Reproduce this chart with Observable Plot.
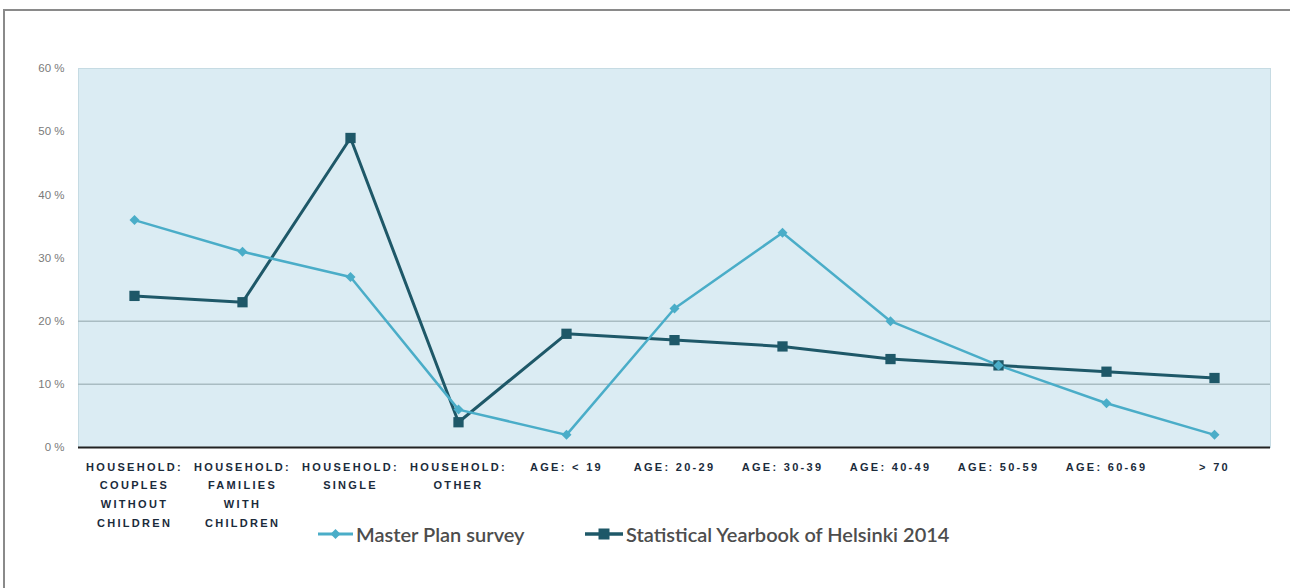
<!DOCTYPE html>
<html>
<head>
<meta charset="utf-8">
<script src="https://cdn.jsdelivr.net/npm/d3@7"></script>
<script src="https://cdn.jsdelivr.net/npm/@observablehq/plot@0.6"></script>
<style>
  html, body { margin: 0; padding: 0; background: #fff; }
  #page { position: relative; width: 1290px; height: 588px; overflow: hidden; }
  #border { position: absolute; left: 3px; top: 9px; right: -10px; bottom: -10px;
            border-top: 2px solid #8a8a8a; border-left: 2px solid #8a8a8a; }
  #chart { position: absolute; left: 0; top: 0; }
  #chart svg g[aria-label="x-axis tick label"] text { letter-spacing: 2.3px; }
  .leg { position: absolute; top: 521px; display: flex; align-items: center;
         font-family: Lato, "Liberation Sans", sans-serif; font-size: 20px; color: #4d4d4d; font-weight: 600; }
  .leg svg { margin-right: 3px; }
</style>
</head>
<body>
<div id="page">
  <div id="border"></div>
  <div id="chart"></div>
  <div class="leg" style="left:318px"><svg width="35" height="26"><line x1="0" x2="35" y1="13" y2="13" stroke="#4aadc8" stroke-width="3"/><path d="M17.5,8L22.5,13L17.5,18L12.5,13Z" fill="#4aadc8"/></svg><span>Master Plan survey</span></div>
  <div class="leg" style="left:585px"><svg width="38" height="26"><line x1="0" x2="38" y1="13" y2="13" stroke="#1e5868" stroke-width="3.5"/><rect x="13.5" y="7.5" width="11" height="11" fill="#1e5868"/></svg><span>Statistical Yearbook of Helsinki 2014</span></div>
</div>
<script>
const categories = ["couples", "families", "single", "other", "age<19", "age20", "age30", "age40", "age50", "age60", "age70"];
const categoryLabels = [
  "HOUSEHOLD:\nCOUPLES\nWITHOUT\nCHILDREN",
  "HOUSEHOLD:\nFAMILIES\nWITH\nCHILDREN",
  "HOUSEHOLD:\nSINGLE",
  "HOUSEHOLD:\nOTHER",
  "AGE: < 19",
  "AGE: 20-29",
  "AGE: 30-39",
  "AGE: 40-49",
  "AGE: 50-59",
  "AGE: 60-69",
  "> 70"
];
const masterPlan = [36, 31, 27, 6, 2, 22, 34, 20, 13, 7, 2];
const yearbook = [24, 23, 49, 4, 18, 17, 16, 14, 13, 12, 11];
const yTicks = [0, 10, 20, 30, 40, 50, 60];
const gridValues = [10, 20];
const seriesNames = ["Master Plan survey", "Statistical Yearbook of Helsinki 2014"];

const lightBlue = "#4aadc8";
const darkTeal = "#1e5868";

const mp = categories.map((c, i) => ({cat: c, value: masterPlan[i], series: seriesNames[0]}));
const yb = categories.map((c, i) => ({cat: c, value: yearbook[i], series: seriesNames[1]}));
const labelOf = new Map(categories.map((c, i) => [c, categoryLabels[i]]));

const chart = Plot.plot({
  width: 1290,
  height: 588,
  marginLeft: 78,
  marginRight: 20,
  marginTop: 68,
  marginBottom: 141,
  style: {fontFamily: "'Liberation Sans', sans-serif", background: "transparent"},
  x: {type: "point", domain: categories, padding: 0.5, label: null},
  y: {domain: [0, 60], label: null},
  marks: [
    Plot.frame({fill: "#dbecf3", stroke: "#c6dbe3"}),
    Plot.gridY(gridValues, {stroke: "#a9bcc2", strokeOpacity: 1, strokeWidth: 1.5}),
    Plot.axisY(yTicks, {tickSize: 0, tickPadding: 14, tickFormat: d => d + " %", fontSize: 11.5, fill: "#7a7a7a", label: null}),
    Plot.axisX({tickSize: 0, tickPadding: 10, tickFormat: d => labelOf.get(d), fontSize: 11, fontWeight: "bold", fill: "#1b2b3b", lineHeight: 1.7, label: null}),
    Plot.ruleY([0], {stroke: "#222", strokeWidth: 2}),
    Plot.line(yb, {x: "cat", y: "value", stroke: darkTeal, strokeWidth: 3}),
    Plot.line(mp, {x: "cat", y: "value", stroke: lightBlue, strokeWidth: 2.5}),
    Plot.dot(yb, {x: "cat", y: "value", symbol: "square", r: 5.8, fill: darkTeal}),
    Plot.dot(mp, {x: "cat", y: "value", symbol: "diamond2", r: 4.5, fill: lightBlue})
  ]
});
document.getElementById("chart").appendChild(chart);
</script>
</body>
</html>
